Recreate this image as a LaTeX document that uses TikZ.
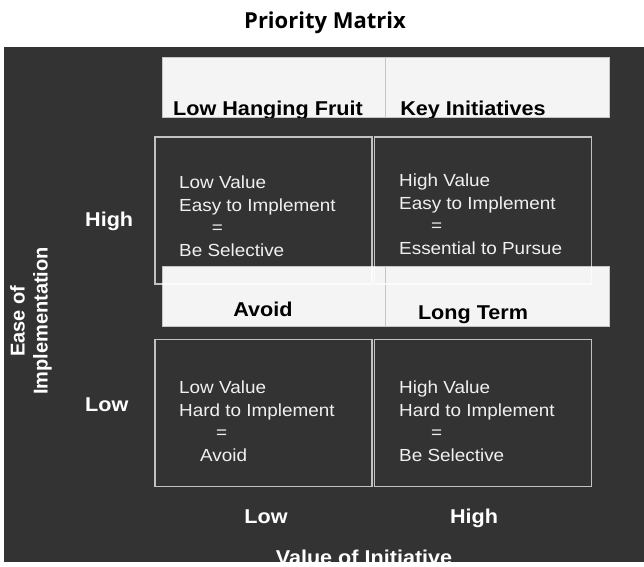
\documentclass[tikz,border=0pt]{standalone}
\usepackage{fontspec}
\setmainfont{Liberation Sans}
\newfontfamily\headfont{Open Sans}
\newfontfamily\widefont[FakeStretch=1.08]{Liberation Sans}
\usetikzlibrary{positioning}

\definecolor{slate}{HTML}{333333}
\definecolor{paper}{HTML}{F4F4F4}
\definecolor{seam}{HTML}{C6C6C6}

\begin{document}
\begin{tikzpicture}[x=1pt,y=-1pt,node distance=1.5pt]
    \tikzstyle{heading}=[font=\headfont\bfseries\fontsize{22}{26}\selectfont,inner sep=0pt]
    \tikzstyle{tag}=[rectangle,fill=paper,draw=seam,line width=0.6pt,
    minimum width=223.5pt,minimum height=60pt,inner sep=0pt,outer sep=0pt]
    \tikzstyle{tag-label}=[font=\widefont\bfseries\fontsize{20}{24}\selectfont,text=black,inner sep=0pt,anchor=base]
    \tikzstyle{quadrant}=[rectangle,draw=white,draw opacity=0.7,line width=1.2pt,
    minimum width=217pt,minimum height=147pt,inner sep=0pt]
    % anchored on the baseline of the last line
    \tikzstyle{quad-text}=[font=\widefont\fontsize{17.5}{22.7}\selectfont,text=white!94!black,
    align=left,inner sep=0pt,anchor=base west]
    \tikzstyle{axis-label}=[font=\widefont\bfseries\fontsize{20}{24}\selectfont,text=white,inner sep=0pt,anchor=base]

    \useasboundingbox (0,0) rectangle (644,566);
    \node [heading,anchor=base] (title) at (325,28) {Priority Matrix};
    \fill [slate] (4,47) rectangle (644,562);

    % light strips with the quadrant names
    \node [tag] (fruit) at (273.75,87) {};
    \node [tag,right=0pt of fruit] (keyinit) {};
    \node [tag] (avoid) at (273.75,296.75) {};
    \node [tag,right=0pt of avoid] (longterm) {};
    \begin{scope}
      \clip (162,57) rectangle (609,117);
      \node [tag-label] (fruit-txt) at (268,115) {Low Hanging Fruit};
      \node [tag-label] (keyinit-txt) at (473,115) {Key Initiatives};
    \end{scope}
    \node [tag-label] (avoid-txt) at (263,316.7) {Avoid};
    \node [tag-label] (longterm-txt) at (473,319.5) {Long Term};

    % the four quadrants
    \node [quadrant] (easylow) at (263.5,210.5) {};
    \node [quadrant,right=of easylow] (easyhigh) {};
    \node [quadrant] (hardlow) at (263.5,413) {};
    \node [quadrant,right=of hardlow] (hardhigh) {};

    \node [quad-text] (easylow-txt) at (179,256.6)
      {Low Value\\Easy to Implement\\\hspace*{32.7pt}=\\Be Selective};
    \node [quad-text] (easyhigh-txt) at (399,254.6)
      {High Value\\Easy to Implement\\\hspace*{32pt}=\\Essential to Pursue};
    \node [quad-text] (hardlow-txt) at (179,461.5)
      {Low Value\\Hard to Implement\\\hspace*{37pt}=\\\hspace*{21pt}Avoid};
    \node [quad-text] (hardhigh-txt) at (399,461.5)
      {High Value\\Hard to Implement\\\hspace*{32pt}=\\Be Selective};

    % axes
    \node [axis-label,anchor=base west] (ease-high) at (85,226.7) {High};
    \node [axis-label,anchor=base west] (ease-low) at (85,411.7) {Low};
    \node [axis-label] (value-low) at (266,523.3) {Low};
    \node [axis-label] (value-high) at (474,523.3) {High};
    \node [font=\bfseries\fontsize{20}{23}\selectfont,text=white,rotate=90,align=center,
      inner sep=0pt] (ease) at (31,321) {Ease of\\Implementation};
    \begin{scope}
      \clip (4,47) rectangle (644,562);
      \node [axis-label] (value) at (364,564.3) {Value of Initiative};
    \end{scope}

\end{tikzpicture}
\end{document}
